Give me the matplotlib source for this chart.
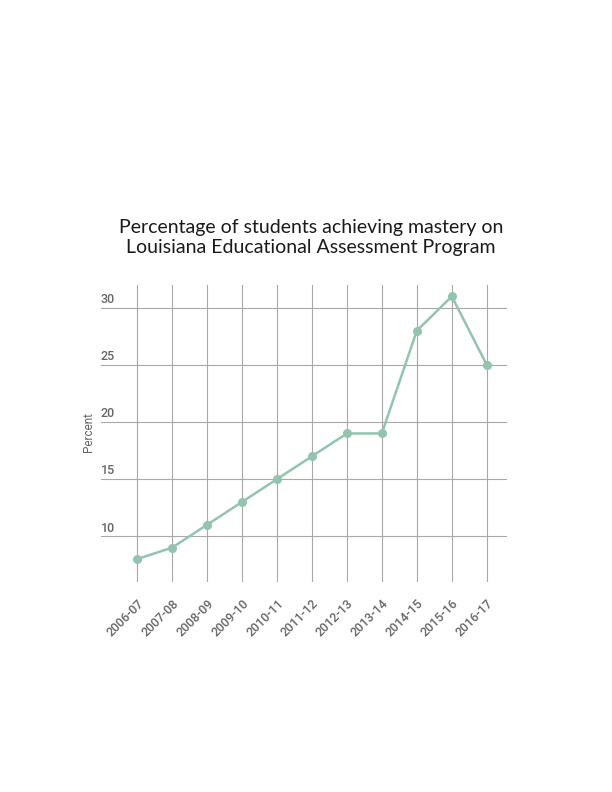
import numpy as np
import matplotlib.pyplot as plt
import matplotlib.transforms as mtransforms

# data
years = ['2006-07', '2007-08', '2008-09', '2009-10', '2010-11', '2011-12',
         '2012-13', '2013-14', '2014-15', '2015-16', '2016-17']
percent = [8, 9, 11, 13, 15, 17, 19, 19, 28, 31, 25]
yticks = [10, 15, 20, 25, 30]

title = 'Percentage of students achieving mastery on\nLouisiana Educational Assessment Program'

line_color = '#93c4ad'
grid_color = '#a8a8a8'
text_color = '#666666'

fig = plt.figure(figsize=(6.12, 7.92), dpi=100)
ax = fig.add_axes([0.165, 0.2652, 0.663, 0.375])

x = np.arange(len(years))
ax.set_xlim(-1.03, 10.57)
ax.set_ylim(6, 32)

# grid
for v in yticks:
    ax.axhline(v, color=grid_color, lw=0.8, zorder=1)
for xi in x:
    ax.axvline(xi, color=grid_color, lw=0.8, zorder=1)

ax.plot(x, percent, color=line_color, lw=1.8, marker='o', markersize=5.5,
        markeredgecolor=line_color, zorder=3)

for s in ax.spines.values():
    s.set_visible(False)
ax.set_yticks([])
ax.set_xticks(x)
ax.set_xticklabels(years, rotation=45, ha='right', rotation_mode='anchor',
                   fontsize=9, color=text_color, family='Roboto', fontweight='medium')
ax.tick_params(axis='x', length=0, pad=11)

# y labels sit above the gridlines on the left
trans = mtransforms.blended_transform_factory(ax.transAxes, ax.transData)
for v in yticks:
    ax.text(0.0, v + 0.15, str(v), transform=trans, ha='left', va='bottom',
            fontsize=9, color=text_color, family='Roboto', fontweight='medium')

fig.text(0.144, 0.455, 'Percent', rotation=90, ha='center', va='center',
         fontsize=8.5, color=text_color, family='Roboto')

fig.text(0.508, 0.700, title, ha='center', va='center', fontsize=14,
         color='#1a1a1a', family='Lato', linespacing=1.25)

fig.savefig('out.png', dpi=100, facecolor='white')
